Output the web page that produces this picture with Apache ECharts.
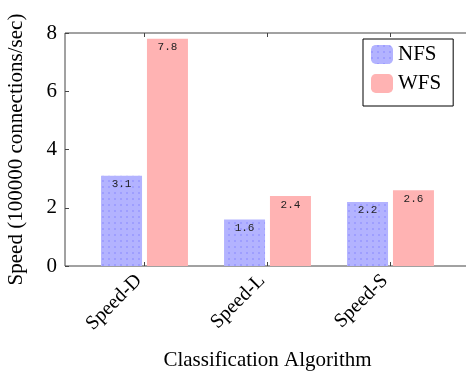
<!DOCTYPE html>
<html><head><meta charset="utf-8">
<script src="https://cdn.jsdelivr.net/npm/echarts@6/dist/echarts.min.js"></script>
<style>html,body{margin:0;padding:0;background:#fff}#c{width:466px;height:372px}</style>
</head><body><div id="c"></div>
<script>
const categories = ['Speed-D', 'Speed-L', 'Speed-S'];
const nfs = [3.1, 1.6, 2.2];
const wfs = [7.8, 2.4, 2.6];
const yTicks = [0, 2, 4, 6, 8];

const serif = 'Liberation Serif';
const chart = echarts.init(document.getElementById('c'));
const labelCfg = {
  show: true, position: 'insideTop', distance: 3, color: '#222',
  fontFamily: 'Liberation Mono', fontSize: 11,
  formatter: p => p.value.toFixed(1)
};
chart.setOption({
  animation: false,
  grid: [
    {left: 83, right: 14, top: 33, bottom: 106, outerBoundsMode: 'none', containLabel: false},
    {left: 65, right: -5, top: 33, bottom: 106, outerBoundsMode: 'none', containLabel: false,
     show: true, borderColor: '#444', borderWidth: 1, backgroundColor: 'transparent'}
  ],
  legend: {
    orient: 'vertical', left: 363, top: 39,
    padding: [5, 12, 12, 8], itemGap: 8, itemWidth: 22, itemHeight: 19,
    borderColor: '#000', borderWidth: 1, borderRadius: 0,
    textStyle: {fontFamily: serif, fontSize: 21, color: '#000'},
    data: ['NFS', 'WFS']
  },
  xAxis: [
    {gridIndex: 0, type: 'category', data: categories, position: 'bottom',
     axisLine: {show: false}, axisTick: {show: true, inside: true, alignWithLabel: true, length: 4, lineStyle: {color: '#444'}},
     axisLabel: {rotate: 45, fontFamily: serif, fontSize: 20, color: '#000', margin: 6, padding: [0, 8, 0, 0]},
     name: 'Classification Algorithm', nameLocation: 'middle', nameGap: 84,
     nameTextStyle: {fontFamily: serif, fontSize: 21, color: '#000'}},
    {gridIndex: 0, type: 'category', data: categories, position: 'top',
     axisLine: {show: false}, axisTick: {show: true, inside: true, alignWithLabel: true, length: 4, lineStyle: {color: '#444'}},
     axisLabel: {show: false}},
    {gridIndex: 1, type: 'value', show: false}
  ],
  yAxis: [
    {gridIndex: 0, type: 'value', min: 0, max: 8, interval: 2, show: false},
    {gridIndex: 1, type: 'value', min: 0, max: 8, interval: 2,
     axisLine: {show: false}, splitLine: {show: false},
     axisTick: {show: true, inside: true, length: 4, lineStyle: {color: '#444'}},
     axisLabel: {fontFamily: serif, fontSize: 21, color: '#000', margin: 8,
                 formatter: v => yTicks.includes(v) ? String(v) : ''},
     name: 'Speed (100000 connections/sec)', nameLocation: 'middle', nameGap: 38,
     nameTextStyle: {fontFamily: serif, fontSize: 21, color: '#000'}}
  ],
  series: [
    {name: 'NFS', type: 'bar', xAxisIndex: 0, yAxisIndex: 0, data: nfs,
     barWidth: 41, barGap: '12%',
     itemStyle: {color: '#b3b3ff', decal: {symbol: 'circle', symbolSize: 0.7, dashArrayX: [[2, 4]], dashArrayY: [2, 4], color: 'rgba(110,110,255,0.85)', rotation: 0}},
     label: labelCfg},
    {name: 'WFS', type: 'bar', xAxisIndex: 0, yAxisIndex: 0, data: wfs,
     barWidth: 41,
     itemStyle: {color: '#ffb3b3'},
     label: labelCfg}
  ]
});
</script></body></html>
